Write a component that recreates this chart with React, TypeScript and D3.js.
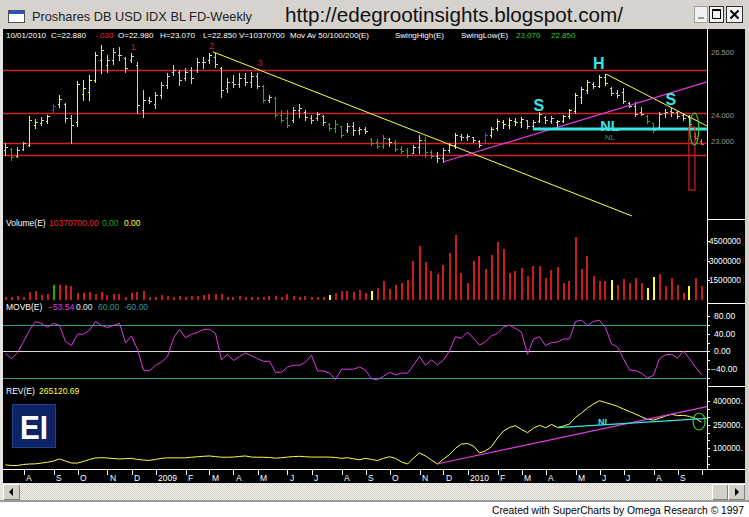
import * as d3 from "d3";

// weekly bars, first one is the week of 11 Jul 2008, last one 1 Oct 2010
const FIRST_WEEK = new Date(2008, 6, 11);

const weekOpen = [
  22.63, 22.67, 22.39, 22.67, 22.83, 23.62, 23.7, 23.78, 24.21, 24.45,
  24.45, 23.9, 23.74, 24.85, 24.93, 25.4, 26.2, 26.0, 26.2, 26.4,
  26.28, 26.2, 26.0, 24.21, 24.61, 24.45, 24.81, 25.21, 25.72, 25.72,
  25.48, 25.8, 25.8, 26.12, 26.2, 26.32, 25.88, 25.09, 25.33, 25.25,
  25.48, 25.33, 25.56, 25.17, 24.61, 24.69, 24.02, 23.9, 23.82, 24.21,
  24.14, 23.9, 23.9, 23.98, 23.66, 23.5, 23.58, 23.42, 23.58, 23.42,
  23.46, 23.06, 22.94, 22.79, 23.06, 22.94, 22.67, 22.63, 22.51, 22.75,
  23.02, 22.55, 22.39, 22.31, 22.63, 22.83, 23.18, 23.14, 23.14, 22.98,
  23.02, 23.22, 23.5, 23.74, 23.62, 23.78, 23.74, 23.82, 23.58, 23.78,
  23.94, 23.78, 23.74, 23.78, 23.98, 24.17, 24.73, 25.01, 25.25, 25.17,
  25.52, 25.09, 24.89, 24.93, 24.49, 24.37, 24.14, 23.98, 23.7, 23.54,
  24.1, 24.17, 24.14, 24.02, 23.94, 23.2, 22.98,
];
const weekHigh = [
  22.9, 22.71, 22.75, 22.94, 23.98, 23.86, 23.94, 24.02, 24.45, 24.81,
  24.49, 24.02, 25.37, 25.4, 25.6, 26.52, 26.79, 26.4, 26.68, 26.71,
  26.32, 26.48, 26.12, 25.01, 24.73, 24.93, 25.33, 25.68, 26.0, 25.8,
  25.88, 25.92, 26.28, 26.32, 26.48, 26.48, 25.92, 25.48, 25.6, 25.68,
  25.68, 25.72, 25.68, 25.21, 24.81, 24.73, 24.21, 24.21, 24.33, 24.45,
  24.21, 24.02, 24.14, 24.02, 23.7, 23.82, 23.58, 23.7, 23.74, 23.54,
  23.54, 23.1, 23.06, 23.22, 23.1, 23.02, 22.79, 22.71, 22.83, 23.22,
  23.14, 22.63, 22.55, 22.71, 22.9, 23.3, 23.26, 23.26, 23.14, 23.02,
  23.3, 23.54, 23.86, 23.82, 23.9, 23.9, 23.94, 23.82, 23.82, 24.14,
  23.98, 23.98, 23.82, 24.02, 24.25, 24.89, 25.13, 25.4, 25.33, 25.6,
  25.64, 25.13, 25.01, 25.09, 24.53, 24.53, 24.33, 24.02, 23.7, 24.14,
  24.25, 24.29, 24.17, 24.1, 24.02, 23.3, 23.07,
];
const weekLow = [
  22.43, 22.23, 22.35, 22.63, 22.79, 23.5, 23.62, 23.7, 24.14, 24.33,
  23.74, 22.9, 23.58, 24.61, 24.61, 25.33, 25.68, 25.72, 26.04, 26.2,
  25.72, 26.12, 24.1, 23.94, 24.49, 24.29, 24.69, 25.09, 25.6, 25.21,
  25.4, 25.29, 25.72, 25.88, 26.08, 25.92, 24.73, 24.93, 25.13, 25.13,
  25.21, 25.13, 25.09, 24.53, 24.53, 23.94, 23.74, 23.54, 23.74, 23.94,
  23.82, 23.7, 23.82, 23.62, 23.42, 23.34, 23.14, 23.34, 23.22, 23.26,
  23.3, 22.83, 22.71, 22.71, 22.79, 22.59, 22.51, 22.35, 22.51, 22.51,
  22.35, 22.31, 22.15, 22.15, 22.55, 22.71, 23.02, 23.02, 22.94, 22.75,
  22.94, 23.14, 23.42, 23.5, 23.5, 23.62, 23.54, 23.5, 23.46, 23.74,
  23.7, 23.7, 23.54, 23.74, 23.9, 24.1, 24.49, 24.89, 25.09, 25.13,
  25.21, 24.81, 24.73, 24.49, 24.33, 23.98, 24.02, 23.7, 23.34, 23.5,
  23.94, 23.98, 23.9, 23.82, 23.62, 23.06, 22.85,
];
const weekClose = [
  22.75, 22.35, 22.63, 22.9, 23.82, 23.74, 23.82, 23.98, 24.37, 24.65,
  23.9, 23.62, 25.25, 25.09, 25.4, 26.4, 26.6, 26.2, 26.52, 26.4,
  25.88, 26.36, 24.41, 24.61, 24.57, 24.81, 25.21, 25.56, 25.8, 25.4,
  25.72, 25.48, 26.12, 26.12, 26.4, 26.04, 25.01, 25.33, 25.25, 25.48,
  25.33, 25.56, 25.17, 24.61, 24.73, 24.02, 23.82, 23.62, 24.21, 24.29,
  23.94, 23.82, 24.06, 23.74, 23.5, 23.66, 23.22, 23.58, 23.42, 23.46,
  23.38, 22.9, 22.79, 23.1, 22.94, 22.67, 22.59, 22.43, 22.75, 23.02,
  22.55, 22.39, 22.31, 22.63, 22.83, 23.22, 23.14, 23.18, 23.02, 22.83,
  23.22, 23.46, 23.78, 23.66, 23.82, 23.74, 23.86, 23.58, 23.74, 24.06,
  23.82, 23.9, 23.78, 23.98, 24.21, 24.81, 25.05, 25.33, 25.17, 25.52,
  25.29, 24.89, 24.81, 24.57, 24.37, 24.06, 24.06, 23.78, 23.42, 24.06,
  24.14, 24.14, 23.98, 23.9, 23.66, 23.1, 22.88,
];
// U up, N neutral, D down, B breakout, E last weeks
const barSignal =
  "NDNNUUNUBU" + "NNUUUUUNNN" + "NNNNNNNNNN" + "NNNNUNNNNN" + "NNNDNDDDNN" +
  "NNNNDDDNNN" + "NDDDNDDDNN" + "DDNNNUNNNN" + "BUUUUUUNNU" + "NNUUUUUUNU" +
  "UNNNNNNDDN" + "NNNNNEE";

// volume in millions of shares
const volumeM = [
  2.0, 2.5, 3.0, 2.0, 6.3, 7.1, 3.8, 4.6, 11.4, 11.4,
  11.4, 10.7, 5.6, 5.0, 6.3, 4.6, 6.3, 3.8, 4.3, 4.3,
  2.5, 5.0, 6.3, 7.1, 2.0, 2.5, 3.8, 3.3, 2.5, 3.0,
  2.5, 3.3, 3.0, 3.8, 4.3, 4.6, 4.6, 2.5, 2.5, 3.0,
  2.5, 2.0, 2.0, 2.5, 3.0, 3.0, 2.5, 4.6, 3.0, 2.5,
  3.0, 2.5, 2.5, 2.0, 3.8, 5.0, 7.1, 7.1, 6.3, 7.6,
  5.0, 7.1, 8.9, 14.5, 8.1, 11.4, 13.2, 15.2, 29.9, 41.2,
  29.0, 22.0, 19.6, 26.6, 36.0, 49.8, 20.3, 12.6, 29.9, 33.5,
  23.4, 34.3, 44.4, 38.6, 20.3, 22.3, 24.1, 18.3, 25.9, 25.9,
  17.0, 22.8, 25.4, 12.6, 14.6, 48.2, 23.6, 33.5, 18.3, 14.6,
  14.6, 15.2, 11.4, 16.0, 12.6, 17.0, 12.6, 8.9, 17.5, 19.6,
  10.6, 17.0, 11.4, 5.0, 10.6, 17.0, 10.3707,
];
// R normal, G up week, Y flagged week
const volumeSignal =
  "RRRRRRRRGR" + "RRRRRRRRRR" + "RRRRRRRRRR" + "RRRRRRRRRR" + "RRRRRRRRRR" +
  "RRRRYRRRRR" + "RYRRRRRRRR" + "RRRRRRRRRR" + "RRRRRRRRRR" + "RRRRRRRRRR" +
  "RYRRRRRYYR" + "RRRRYRR";

const movbValues = [
  -5, -17, -3, 22, 48, 68, 63, 55, 64, 59,
  22, 13, 39, 39, 48, 68, 59, 54, 59, 64,
  19, 35, 4, -43, -45, -32, -25, -12, 30, 50,
  31, 39, 43, 50, 50, 41, -20, -7, -21, -12,
  -4, -10, -17, -23, -23, -48, -48, -36, -32, -32,
  -25, -9, -45, -45, -50, -65, -41, -41, -41, -36,
  -43, -63, -65, -57, -48, -54, -50, -50, -32, -12,
  -32, -20, -31, -20, 1, 33, 30, 44, 30, 14,
  22, 35, 41, 55, 60, 52, 44, -7, 28, 33,
  13, 20, 21, 28, 28, 68, 71, 59, 68, 71,
  54, 17, 10, -17, -43, -44, -50, -61, -55, -17,
  -8, -7, -16, 1, -17, -36, -53.54,
];

const revValues = [
  -6000, -9500, -9500, -3000, 0, 1000, 6000, 11000, 19000, 32000,
  19000, 6000, 6000, 16000, 29000, 38000, 40000, 38000, 35000, 32000,
  34000, 36000, 29000, 25000, 23000, 29000, 36000, 39000, 39000, 39000,
  39000, 43000, 46000, 49000, 51000, 47000, 43000, 43000, 44000, 48000,
  51000, 44000, 43000, 43000, 41000, 37000, 40000, 44000, 47000, 49000,
  46000, 44000, 44000, 44000, 44000, 41000, 36000, 40000, 33000, 27000,
  36000, 29000, 22000, 36000, 46000, 36000, 13000, 0, 38000, 70000,
  51000, 25000, 0, 32000, 60000, 100000, 127000, 130000, 114000, 70000,
  83000, 110000, 165000, 210000, 232000, 243000, 219000, 199000, 227000, 246000,
  230000, 251000, 232000, 241000, 254000, 296000, 324000, 356000, 381000, 402000,
  390000, 379000, 366000, 349000, 333000, 317000, 300000, 284000, 279000, 290000,
  305000, 316000, 307000, 309000, 302000, 290000, 265120.69,
];

// support / resistance levels and price axis labels
const priceLevels = [25.8, 24.1, 22.905, 22.43];
const priceAxisLabels = [26.5, 24.0, 23.0];
const volumeTicksM = [45, 30, 15];
const movbTicks = [80, 40, 0, -40];
const movbBands = [60, -60];
const revTicks = [400000, 250000, 100000];
const MONTH_LETTERS = "JFMAMJJASOND";
// the right axis is too narrow for the full labels, only this many characters show
const AXIS_CHARS = 7;

// hand-drawn annotations, in [week, value] units
const priceTrendDown = [[34.6, 26.52], [104.4, 20.01]];
const priceTrendDown2 = [[100.1, 25.64], [116.9, 23.58]];
const priceTrendUp = [[72.9, 22.15], [116.9, 25.33]];
const neckline = [[87.9, 23.46], [116.9, 23.46]];
const revTrendUp = [[71.9, 0], [116.9, 363800]];
const revNeckline = [[92.1, 230500], [116.9, 290000]];
const waveLabels = [
  { t: "1", week: 21.3, price: 26.595 },
  { t: "2", week: 34.4, price: 26.635 },
  { t: "3", week: 42.4, price: 25.96 },
];
const patternLabels = [
  { t: "S", week: 88.9, price: 24.175 },
  { t: "H", week: 98.9, price: 25.841 },
  { t: "S", week: 110.9, price: 24.413 },
];

const FONT = "'Liberation Sans', Arial, sans-serif";
const SIGNAL_COLORS: Record<string, string> = {
  U: "#ffff00",
  N: "#cfcfcf",
  D: "#12c012",
  B: "#3a4cff",
  E: "#ff6a20",
};
const VOLUME_COLORS: Record<string, string> = { R: "#cc1b1b", G: "#14b014", Y: "#ffff30" };
const RED = "#d42020";
const MAGENTA = "#e03ce0";
const TEAL = "#2a9d8c";
const CYAN = "#38e4e4";

const crisp = (v: number) => Math.round(v) + 0.5;

function Bevel({ x, y, w, h }: { x: number; y: number; w: number; h: number }) {
  return (
    <g shapeRendering="crispEdges">
      <rect x={x} y={y} width={w} height={h} fill="#d4d0c8" />
      <path d={`M${x + 0.5},${y + h - 0.5}V${y + 0.5}H${x + w - 0.5}`} stroke="#ffffff" fill="none" />
      <path d={`M${x + 0.5},${y + h - 0.5}H${x + w - 0.5}V${y + 0.5}`} stroke="#808080" fill="none" />
    </g>
  );
}

export default function App() {
  const n = weekClose.length;
  const x = d3.scaleLinear().domain([0, n - 1]).range([5.5, 701.5]);
  const yP = d3.scaleLinear().domain([22, 27]).range([165.8, 39.8]);
  const yV = d3.scaleLinear().domain([0, 45]).range([300, 241]);
  const yM = d3.scaleLinear().domain([-60, 60]).range([377.5, 325]);
  const yR = d3.scaleLinear().domain([0, 400000]).range([464, 401]);

  const weeks = weekClose.map((_, i) => d3.timeDay.offset(FIRST_WEEK, 7 * i));
  const monthTicks = weeks.flatMap((d, i) =>
    i > 0 && d.getMonth() !== weeks[i - 1].getMonth()
      ? [{ i, label: d.getMonth() === 0 ? String(d.getFullYear()) : MONTH_LETTERS[d.getMonth()] }]
      : []
  );

  const movbLine = d3.line<number>().x((_, i) => x(i)).y((d) => yM(d))(movbValues) ?? "";
  const revLine = d3.line<number>().x((_, i) => x(i)).y((d) => yR(d))(revValues) ?? "";
  const seg = (pts: number[][], ys: (v: number) => number) =>
    `M${x(pts[0][0])},${ys(pts[0][1])}L${x(pts[1][0])},${ys(pts[1][1])}`;

  const last = n - 1;
  const f3 = d3.format(".3f");
  const header = [
    { x: 6, t: d3.timeFormat("%m/%d/%Y")(weeks[last]), c: "#fff" },
    { x: 51, t: `C=${f3(weekClose[last])}`, c: "#fff" },
    { x: 95, t: "-.030", c: "#ff2020" },
    { x: 118, t: `O=${f3(weekOpen[last])}`, c: "#fff" },
    { x: 160, t: `H=${f3(weekHigh[last])}`, c: "#fff" },
    { x: 203, t: `L=${f3(weekLow[last])}`, c: "#fff" },
    { x: 239, t: `V=${Math.round(volumeM[last] * 1e6)}`, c: "#fff" },
    { x: 290, t: "Mov Av 50/100/200(E)", c: "#fff" },
    { x: 395, t: "SwingHigh(E)", c: "#fff" },
    { x: 461, t: "SwingLow(E)", c: "#fff" },
    { x: 516, t: f3(weekHigh[last]), c: "#22d022" },
    { x: 551, t: f3(weekLow[last]), c: "#22d022" },
  ];

  return (
    <svg
      width={749}
      height={517}
      viewBox="0 0 749 517"
      style={{ position: "fixed", left: 0, top: 0, display: "block" }}
      fontFamily={FONT}
    >
      <defs>
        <pattern id="scrollDots" width={2} height={2} patternUnits="userSpaceOnUse">
          <rect width={2} height={2} fill="#f4f3f0" />
          <rect width={1} height={1} fill="#d4d0c8" />
          <rect x={1} y={1} width={1} height={1} fill="#d4d0c8" />
        </pattern>
        <clipPath id="plotClip">
          <rect x={3} y={29} width={704} height={440} />
        </clipPath>
      </defs>

      <rect width={749} height={517} fill="#ffffff" />
      {/* window frame */}
      <rect x={0} y={0} width={749} height={502} fill="#d6d3ce" />
      <rect x={0} y={29} width={3} height={472} fill="#e6e4e0" />
      <rect x={0} y={500} width={749} height={2} fill="#9a9a9a" />

      {/* title bar */}
      <rect x={8.5} y={10.5} width={16} height={12} fill="#ffffff" stroke="#505050" />
      <rect x={9} y={11} width={15} height={3} fill="#2456c8" />
      <text x={32} y={21} fontSize={13.5} fill="#222" textLength={220} lengthAdjust="spacingAndGlyphs">
        Proshares DB USD IDX BL FD-Weekly
      </text>
      <text x={285} y={22} fontSize={20} fill="#111" textLength={338} lengthAdjust="spacingAndGlyphs">
        http://edegrootinsights.blogspot.com/
      </text>
      <g shapeRendering="crispEdges">
        <rect x={694.5} y={6.5} width={13} height={16} fill="#f0f0f0" stroke="#a0a0a0" />
        <rect x={698} y={17} width={6} height={2} fill="#9a9a9a" />
        <rect x={709.5} y={6.5} width={14} height={16} fill="#f4f4f4" stroke="#303030" />
        <rect x={712.5} y={9.5} width={8} height={9} fill="none" stroke="#000" />
        <rect x={712} y={9} width={9} height={2} fill="#000" />
        <rect x={726.5} y={6.5} width={16} height={16} fill="#f4f4f4" stroke="#303030" />
      </g>
      <path d="M730.5,10.5L738.5,18.5M738.5,10.5L730.5,18.5" stroke="#000" strokeWidth={2} />

      {/* chart background */}
      <rect x={3} y={29} width={742} height={454} fill="#000" />

      {/* header line */}
      {header.map((h) => (
        <text key={h.x} x={h.x} y={38} fontSize={8} fill={h.c}>
          {h.t}
        </text>
      ))}

      <g clipPath="url(#plotClip)">
        {/* price levels */}
        {priceLevels.map((p) => (
          <line key={p} x1={3} x2={707} y1={crisp(yP(p))} y2={crisp(yP(p))} stroke={RED} strokeWidth={1.3} />
        ))}

        {/* OHLC bars */}
        <g shapeRendering="crispEdges">
          {weekClose.map((c, i) => {
            const xi = crisp(x(i) - 0.5);
            const col = SIGNAL_COLORS[barSignal[i]];
            return (
              <g key={i} stroke={col}>
                <line x1={xi} x2={xi} y1={Math.round(yP(weekHigh[i]))} y2={Math.round(yP(weekLow[i])) + 1} />
                <line x1={xi - 2} x2={xi} y1={crisp(yP(weekOpen[i]))} y2={crisp(yP(weekOpen[i]))} />
                <line x1={xi} x2={xi + 2} y1={crisp(yP(c))} y2={crisp(yP(c))} />
              </g>
            );
          })}
        </g>

        {/* trend lines */}
        <path d={seg(priceTrendDown, yP)} stroke="#ffff40" strokeWidth={1} fill="none" />
        <path d={seg(priceTrendDown2, yP)} stroke="#ffff40" strokeWidth={1} fill="none" />
        <path d={seg(priceTrendUp, yP)} stroke={MAGENTA} strokeWidth={1.2} fill="none" />
        <path d={seg(neckline, yP)} stroke={CYAN} strokeWidth={3} fill="none" />
        <rect
          x={x(113.9)}
          y={yP(23.54)}
          width={x(114.9) - x(113.9)}
          height={yP(21.04) - yP(23.54)}
          fill="none"
          stroke={RED}
          strokeWidth={1.2}
        />
        <ellipse cx={x(114.8)} cy={yP(23.46)} rx={4.5} ry={16} fill="none" stroke="#3ccc3c" strokeWidth={1.2} />

        {waveLabels.map((l) => (
          <text key={l.t} x={x(l.week)} y={yP(l.price)} fontSize={9} fill={RED} textAnchor="middle">
            {l.t}
          </text>
        ))}
        {patternLabels.map((l) => (
          <text
            key={l.week}
            x={x(l.week)}
            y={yP(l.price)}
            fontSize={16}
            fontWeight="bold"
            fill={CYAN}
            textAnchor="middle"
          >
            {l.t}
          </text>
        ))}
        <text x={x(100.75)} y={yP(23.381)} fontSize={14.5} fontWeight="bold" fill={CYAN} textAnchor="middle">
          NL
        </text>
        <text x={x(100.75)} y={yP(23.024)} fontSize={8} fill={TEAL} textAnchor="middle">
          NL
        </text>

        {/* volume */}
        <text x={6} y={226} fontSize={8.5} fill="#fff">
          Volume(E)
        </text>
        <text x={49} y={226} fontSize={8.5} fill="#ff2020">
          {d3.format(".2f")(volumeM[last] * 1e6)}
        </text>
        <text x={102} y={226} fontSize={8.5} fill="#20a020">
          0.00
        </text>
        <text x={124} y={226} fontSize={8.5} fill="#ffff30">
          0.00
        </text>
        <g shapeRendering="crispEdges">
          {volumeM.map((v, i) => (
            <rect
              key={i}
              x={Math.round(x(i) - 1)}
              y={yV(v)}
              width={2}
              height={yV(0) - yV(v)}
              fill={VOLUME_COLORS[volumeSignal[i]]}
            />
          ))}
        </g>

        {/* MOVB */}
        <text x={6} y={310} fontSize={8.5} fill="#fff">
          MOVB(E)
        </text>
        <text x={48} y={310} fontSize={8.5} fill={MAGENTA}>
          {d3.format(".2f")(movbValues[last])}
        </text>
        <text x={76} y={310} fontSize={8.5} fill="#e8e8e8">
          0.00
        </text>
        <text x={98} y={310} fontSize={8.5} fill={TEAL}>
          60.00
        </text>
        <text x={124} y={310} fontSize={8.5} fill="#3a94aa">
          -60.00
        </text>
        {movbBands.map((b) => (
          <line key={b} x1={3} x2={707} y1={crisp(yM(b))} y2={crisp(yM(b))} stroke={TEAL} />
        ))}
        <line x1={3} x2={707} y1={crisp(yM(0))} y2={crisp(yM(0))} stroke="#d8d8d8" />
        <path d={movbLine} stroke={MAGENTA} strokeWidth={1} fill="none" />

        {/* REV */}
        <text x={6} y={394} fontSize={8.5} fill="#fff">
          REV(E)
        </text>
        <text x={39} y={394} fontSize={8.5} fill="#ffff40">
          {d3.format(".2f")(revValues[last])}
        </text>
        <rect x={12} y={404} width={44} height={44} fill="#0c2366" />
        <rect x={12.5} y={404.5} width={43} height={43} fill="none" stroke="#23408a" />
        <text x={34} y={439} fontSize={33} fontWeight="bold" fill="#ffffff" textAnchor="middle" textLength={28} lengthAdjust="spacingAndGlyphs">
          EI
        </text>
        <path d={revLine} stroke="#ffff50" strokeWidth={1} fill="none" />
        <path d={seg(revTrendUp, yR)} stroke={MAGENTA} strokeWidth={1.2} fill="none" />
        <path d={seg(revNeckline, yR)} stroke={CYAN} strokeWidth={1.2} fill="none" />
        <text x={x(99.75)} y={yR(247600)} fontSize={9} fontWeight="bold" fill={CYAN} textAnchor="middle">
          NL
        </text>
        <ellipse cx={x(115.6)} cy={yR(270000)} rx={6} ry={8.5} fill="none" stroke="#3ccc3c" strokeWidth={1.2} />
      </g>

      {/* axes frame */}
      <g shapeRendering="crispEdges" stroke="#ffffff">
        <line x1={707.5} x2={707.5} y1={29} y2={469} />
        <line x1={3} x2={745} y1={469.5} y2={469.5} />
        {[219.5, 303.5, 386.5].map((yy) => (
          <line key={yy} x1={707} x2={745} y1={yy} y2={yy} />
        ))}
        {monthTicks.map((m) => (
          <line key={m.i} x1={crisp(x(m.i))} x2={crisp(x(m.i))} y1={470} y2={475} />
        ))}
        {volumeTicksM.map((v) => (
          <line key={v} x1={707} x2={710} y1={crisp(yV(v))} y2={crisp(yV(v))} />
        ))}
        {d3.range(-60, 81, 20).map((v) => (
          <line key={v} x1={707} x2={710} y1={crisp(yM(v))} y2={crisp(yM(v))} />
        ))}
        {d3.range(0, 400001, 50000).map((v) => (
          <line key={v} x1={707} x2={710} y1={crisp(yR(v))} y2={crisp(yR(v))} />
        ))}
      </g>

      {/* month labels */}
      {monthTicks
        .filter((m) => x(m.i) < 695)
        .map((m) => (
          <text key={m.i} x={x(m.i) + 2.5} y={481} fontSize={8.5} fill="#fff">
            {m.label}
          </text>
        ))}

      {/* right axis labels */}
      <g fill="#fff" fontSize={8.5}>
        {priceAxisLabels.map((p) => (
          <text key={p} x={711} y={yP(p) + 3} fontSize={7.5} opacity={0.55}>
            {d3.format(".3f")(p)}
          </text>
        ))}
        {volumeTicksM.map((v) => (
          <text key={v} x={709} y={yV(v) + 3} fontSize={8.2}>
            {String(v * 1e6).slice(0, AXIS_CHARS)}
          </text>
        ))}
        {movbTicks.map((v) => (
          <text key={v} x={v < 0 ? 711 : 714} y={yM(v) + 3}>
            {d3.format(".2f")(v)}
          </text>
        ))}
        {revTicks.map((v) => (
          <text key={v} x={713} y={yR(v) + 3} fontSize={8.2}>
            {d3.format(".2f")(v).slice(0, AXIS_CHARS)}
          </text>
        ))}
      </g>

      {/* scrollbar */}
      <rect x={3} y={483} width={742} height={17} fill="url(#scrollDots)" />
      <Bevel x={3} y={484} w={17} h={16} />
      <path d="M9,492L13,488V496Z" fill="#000" />
      <Bevel x={712} y={484} w={16} h={16} />
      <Bevel x={728} y={484} w={17} h={16} />
      <path d="M739,492L735,488V496Z" fill="#000" />

      <text
        x={492}
        y={514}
        fontSize={10.5}
        fontFamily="'Liberation Sans Narrow', 'Liberation Sans', Arial, sans-serif"
        fill="#000"
        textLength={252}
        lengthAdjust="spacingAndGlyphs"
      >
        Created with SuperCharts by Omega Research © 1997
      </text>
    </svg>
  );
}
